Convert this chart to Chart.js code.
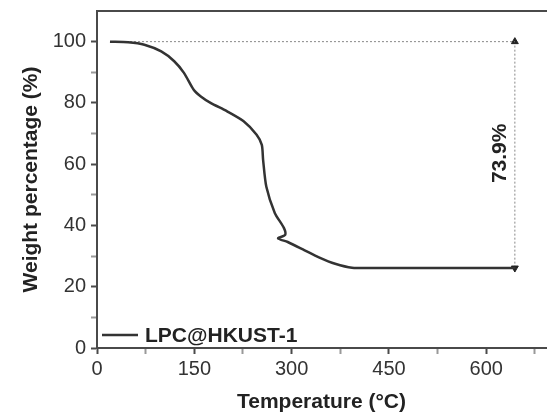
<!DOCTYPE html>
<html>
<head>
<meta charset="utf-8">
<script src="https://cdn.jsdelivr.net/npm/chart.js@4.4.1/dist/chart.umd.min.js"></script>
<style>
  body { margin: 0; background: #fff; }
  #wrap { width: 551px; height: 417px; }
</style>
</head>
<body>
<div id="wrap"><canvas id="tga" width="551" height="417"></canvas></div>
<script>
// TGA curve
const temperature = [20, 48, 73, 99, 119, 134, 149, 160, 175, 200, 226, 246, 254, 256, 261, 274, 288, 290, 279, 294, 320, 342, 367, 393, 430, 510, 645];
const weightPct   = [100, 99.8, 99.0, 96.8, 93.6, 89.8, 84.3, 82.1, 80.0, 77.3, 74.0, 69.6, 66.3, 61.4, 52.6, 44.1, 39.2, 36.9, 35.8, 34.6, 31.9, 29.6, 27.5, 26.2, 26.1, 26.1, 26.1];

const seriesName = 'LPC@HKUST-1';
const xTicks = [0, 75, 150, 225, 300, 375, 450, 525, 600, 675];
const yTicks = [0, 10, 20, 30, 40, 50, 60, 70, 80, 90, 100];

// weight loss marker
const startLevel = 100;
const endLevel = 26.1;
const markerTemp = 644;
const refStart = 20;
const lossLabel = '73.9%';

const FONT = '"Liberation Sans", Arial, sans-serif';
const AXIS = '#4a4a4a';

// legend inside plot + rotated percentage label
const extras = {
  id: 'extras',
  afterDatasetsDraw(chart) {
    const { ctx, chartArea, scales } = chart;
    ctx.save();
    // legend
    const ly = chartArea.bottom - 13;
    ctx.strokeStyle = '#333';
    ctx.lineWidth = 2.5;
    ctx.beginPath();
    ctx.moveTo(chartArea.left + 5, ly);
    ctx.lineTo(chartArea.left + 41, ly);
    ctx.stroke();
    ctx.fillStyle = '#222';
    ctx.font = 'bold 21px ' + FONT;
    ctx.textBaseline = 'middle';
    ctx.textAlign = 'left';
    ctx.fillText(seriesName, chartArea.left + 48, ly + 1);
    // 73.9%
    const tx = scales.x.getPixelForValue(622);
    const ty = scales.y.getPixelForValue((startLevel + endLevel) / 2 + 0.5);
    ctx.translate(tx, ty);
    ctx.rotate(-Math.PI / 2);
    ctx.textAlign = 'center';
    ctx.fillText(lossLabel, 0, 0);
    ctx.restore();
  }
};

new Chart(document.getElementById('tga'), {
  type: 'line',
  data: {
    datasets: [
      {
        data: temperature.map((t, i) => ({ x: t, y: weightPct[i] })),
        borderColor: '#333',
        borderWidth: 2.5,
        pointRadius: 0,
        tension: 0.25,
        order: 0
      },
      {
        data: [{ x: refStart, y: startLevel }, { x: markerTemp, y: startLevel }],
        borderColor: '#888',
        borderWidth: 1,
        borderDash: [2, 2],
        pointRadius: 0,
        order: 1
      },
      {
        data: [{ x: markerTemp, y: startLevel }, { x: markerTemp, y: endLevel }],
        borderColor: '#888',
        borderWidth: 1,
        borderDash: [2, 2],
        pointStyle: 'triangle',
        pointRadius: 4,
        rotation: (c) => (c.dataIndex === 0 ? 0 : 180),
        backgroundColor: '#222',
        pointBorderColor: '#222',
        order: 1
      }
    ]
  },
  options: {
    responsive: false,
    animation: false,
    layout: { padding: { top: 11, right: 0, left: 0, bottom: 0 } },
    plugins: { legend: { display: false }, tooltip: { enabled: false } },
    scales: {
      x: {
        type: 'linear',
        position: 'bottom',
        min: 0,
        max: 692,
        afterBuildTicks: (s) => { s.ticks = xTicks.map(v => ({ value: v })); },
        afterFit: (s) => { s.height = 69; s.paddingLeft = 0; s.paddingRight = 0; },
        ticks: {
          autoSkip: false,
          maxRotation: 0,
          padding: 3,
          color: '#333',
          font: { family: FONT, size: 20 },
          callback: (v) => (v % 150 === 0 ? v : '')
        },
        grid: {
          drawOnChartArea: false,
          tickLength: 6,
          tickWidth: 2,
          tickColor: (c) => (c.tick && c.tick.value % 150 === 0 ? AXIS : '#999')
        },
        border: { color: AXIS, width: 2 },
        title: {
          display: true,
          text: 'Temperature (°C)',
          color: '#222',
          font: { family: FONT, size: 21, weight: 'bold' },
          padding: { top: 0, bottom: 2 }
        }
      },
      x2: {
        type: 'linear',
        position: 'top',
        min: 0,
        max: 692,
        afterFit: (s) => { s.height = 0; s.paddingLeft = 0; s.paddingRight = 0; },
        ticks: { display: false },
        grid: { display: false, drawTicks: false, tickLength: 0 },
        border: { display: true, color: AXIS, width: 2 }
      },
      y: {
        min: 0,
        max: 110,
        afterBuildTicks: (s) => { s.ticks = yTicks.map(v => ({ value: v })); },
        afterFit: (s) => { s.width = 97; s.paddingTop = 0; s.paddingBottom = 0; },
        ticks: {
          autoSkip: false,
          padding: 5,
          color: '#333',
          font: { family: FONT, size: 20 },
          callback: (v) => (v % 20 === 0 ? v : '')
        },
        grid: {
          drawOnChartArea: false,
          tickLength: 6,
          tickWidth: 2,
          tickColor: (c) => (c.tick && c.tick.value % 20 === 0 ? AXIS : '#999')
        },
        border: { color: AXIS, width: 2 },
        title: {
          display: true,
          text: 'Weight percentage (%)',
          color: '#222',
          font: { family: FONT, size: 21, weight: 'bold' },
          padding: { top: 19, bottom: 0 }
        }
      }
    }
  },
  plugins: [extras]
});
</script>
</body>
</html>
